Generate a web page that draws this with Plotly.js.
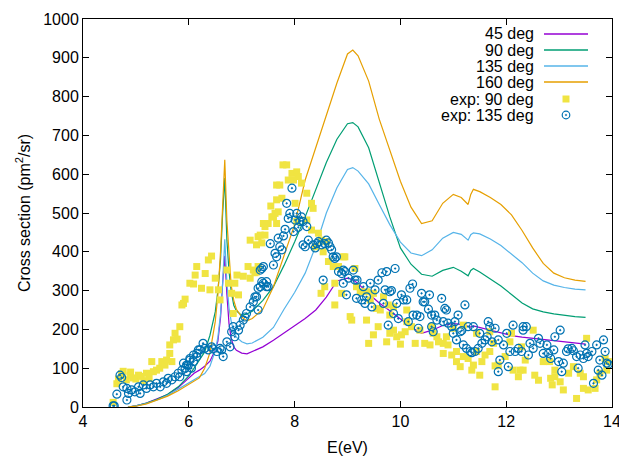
<!DOCTYPE html>
<html>
<head>
<meta charset="utf-8">
<script src="https://cdn.plot.ly/plotly-3.0.1.min.js"></script>
<style>html,body{margin:0;padding:0;background:#fff;}#chart{width:619px;height:457px;}</style>
</head>
<body>
<div id="chart"></div>
<script>
// ---- theory curves: common energy grid (eV) ----
const energyTheory = [4.85,5.0,5.2,5.4,5.6,5.8,5.9,6.0,6.1,6.2,6.3,6.4,6.5,6.55,6.6,6.64,6.68,6.72,6.76,6.8,6.85,6.9,7.0,7.1,7.2,7.4,7.6,7.8,8.0,8.2,8.4,8.6,8.8,9.0,9.1,9.2,9.4,9.6,9.8,10.0,10.2,10.4,10.6,10.8,11.0,11.15,11.28,11.33,11.38,11.5,11.7,11.9,12.1,12.3,12.5,12.7,12.9,13.1,13.3,13.5];
const deg45  = [0,3,10,20,32,50,62,74,87,95,105,118,147,170,230,320,390,290,215,178,155,146,139,137,143,155,172,190,208,228,250,283,325,332,328,318,292,268,248,226,206,190,198,210,215,213,207,206,209,205,197,190,184,180,177,175,172,168,165,162];
const deg90  = [0,3,10,20,33,52,66,80,100,120,142,185,245,300,380,500,590,430,350,300,262,248,236,240,247,275,310,365,425,490,560,630,690,730,733,722,668,580,490,410,368,342,337,352,360,350,338,352,357,348,330,312,290,268,253,245,240,236,233,231];
const deg135 = [0,3,9,18,30,46,55,62,70,78,86,105,145,180,240,320,432,320,255,222,192,180,168,163,165,180,205,252,295,345,415,500,565,612,617,608,575,522,470,425,397,390,405,435,450,445,430,444,449,446,433,416,395,372,345,325,314,308,304,302];
const deg160 = [0,2,8,17,28,42,50,57,65,75,100,140,220,290,400,540,637,480,390,315,275,252,232,222,228,252,310,390,470,585,670,750,835,910,920,905,840,742,660,582,515,473,480,525,548,540,522,548,561,555,540,522,495,455,410,370,345,333,327,324];

// ---- experiment, 90 deg ----
const exp90E = [4.57,4.64,4.67,4.73,4.76,4.82,4.89,4.9,4.95,5.0,5.05,5.1,5.15,5.2,5.25,5.3,5.33,5.39,5.45,5.49,5.55,5.58,5.64,5.64,5.68,5.71,5.74,5.78,5.83,5.87,5.9,5.93,6.02,6.09,6.12,6.15,6.24,6.31,6.37,6.43,6.4,6.5,6.56,6.59,6.72,6.75,6.81,6.84,6.87,6.91,6.94,7.03,7.12,7.16,7.16,7.22,7.28,7.25,7.28,7.31,7.31,7.35,7.38,7.41,7.44,7.44,7.5,7.55,7.57,7.6,7.63,7.66,7.66,7.66,7.69,7.72,7.76,7.78,7.85,7.88,7.95,7.98,8.01,8.04,8.04,8.07,8.13,8.23,8.23,8.32,8.35,8.32,8.39,8.45,8.5,8.51,8.54,8.57,8.6,8.64,8.73,8.76,8.76,8.83,8.89,8.92,8.95,9.05,9.08,9.14,9.17,9.24,9.36,9.36,9.4,9.43,9.49,9.49,9.55,9.58,9.62,9.68,9.74,9.77,9.8,9.8,9.87,9.87,9.93,10.0,10.02,10.09,10.12,10.12,10.21,10.28,10.37,10.46,10.56,10.59,10.62,10.69,10.72,10.81,10.81,10.87,10.9,10.97,11.0,11.06,11.06,11.13,11.19,11.19,11.28,11.35,11.38,11.44,11.44,11.5,11.54,11.6,11.69,11.69,11.76,11.79,11.79,11.85,11.98,12.07,12.1,12.13,12.23,12.26,12.29,12.32,12.36,12.51,12.54,12.61,12.7,12.82,12.84,12.87,12.92,12.92,13.02,13.08,13.18,13.27,13.33,13.4,13.46,13.46,13.52,13.55,13.68,13.71,13.77,13.87,13.9,13.93];
const exp90V = [12,60,72,86,92,70,82,90,75,72,82,79,68,87,74,117,91,95,100,117,108,121,138,160,117,173,190,175,207,263,267,278,319,317,340,362,306,344,379,389,302,332,302,276,353,319,293,241,319,340,289,337,362,332,430,353,348,346,418,439,362,443,423,473,443,465,473,518,490,490,499,534,572,473,503,572,538,624,624,585,602,585,525,606,478,594,577,551,482,525,512,456,413,448,293,430,400,310,426,375,362,319,263,362,293,387,387,233,224,357,310,297,297,224,164,276,293,186,254,207,250,284,168,263,237,190,198,258,181,162,186,194,220,250,207,164,198,164,160,207,190,181,168,164,138,181,160,134,203,143,117,104,130,211,125,95,108,143,190,82,117,134,143,194,164,52,106,108,130,168,190,95,78,95,155,95,121,198,82,69,117,117,74,57,78,95,65,44,87,104,22,87,78,48,177,44,48,70,87,125,95,117];

// ---- experiment, 135 deg ----
const exp135E = [4.57,4.59,4.64,4.7,4.73,4.76,4.83,4.83,4.86,4.92,4.98,5.05,5.08,5.14,5.2,5.27,5.33,5.39,5.46,5.52,5.58,5.61,5.68,5.74,5.8,5.83,5.87,5.9,5.93,5.96,5.96,5.99,6.02,6.02,6.05,6.09,6.09,6.15,6.15,6.18,6.21,6.27,6.3,6.37,6.43,6.46,6.53,6.59,6.62,6.65,6.72,6.78,6.81,6.84,6.87,6.94,6.97,7.03,7.06,7.09,7.16,7.22,7.25,7.28,7.31,7.31,7.35,7.35,7.38,7.38,7.41,7.41,7.47,7.47,7.5,7.54,7.6,7.63,7.66,7.69,7.72,7.76,7.79,7.82,7.85,7.88,7.91,7.95,7.98,8.01,8.04,8.07,8.1,8.13,8.16,8.16,8.2,8.23,8.26,8.35,8.39,8.42,8.45,8.51,8.54,8.57,8.6,8.64,8.67,8.7,8.73,8.76,8.79,8.83,8.89,8.92,8.92,8.95,8.98,9.02,9.11,9.14,9.18,9.17,9.27,9.3,9.33,9.36,9.43,9.46,9.52,9.58,9.65,9.68,9.71,9.74,9.77,9.8,9.83,9.87,9.9,9.93,9.96,10.02,10.06,10.12,10.15,10.18,10.23,10.24,10.31,10.34,10.37,10.4,10.43,10.46,10.53,10.55,10.59,10.59,10.62,10.65,10.69,10.78,10.81,10.84,10.87,10.9,10.97,11.0,11.03,11.06,11.09,11.13,11.16,11.19,11.22,11.25,11.28,11.32,11.35,11.38,11.41,11.47,11.5,11.54,11.6,11.64,11.66,11.69,11.73,11.79,11.85,11.85,11.88,11.95,12.01,12.04,12.07,12.13,12.17,12.23,12.29,12.32,12.32,12.38,12.42,12.45,12.51,12.61,12.64,12.7,12.77,12.8,12.84,12.9,12.92,12.99,13.02,13.05,13.08,13.14,13.17,13.24,13.27,13.33,13.36,13.4,13.46,13.49,13.52,13.55,13.62,13.65,13.71,13.74,13.77,13.81,13.84,13.87,13.9,13.93];
const exp135V = [3,3,33,82,76,52,18,48,35,44,39,52,35,57,48,57,52,61,52,65,61,74,70,78,87,78,95,113,100,91,108,108,125,121,100,117,134,130,138,147,147,164,151,147,155,150,143,151,147,130,168,155,194,207,181,198,211,224,232,241,258,271,284,284,306,250,310,353,323,357,362,319,323,310,310,421,366,396,387,435,413,405,441,458,525,486,499,564,452,482,499,463,478,490,478,418,413,465,430,418,410,421,426,418,327,421,430,423,413,405,387,383,387,349,344,353,319,349,289,332,353,327,327,280,276,310,267,284,319,258,302,327,346,267,302,349,211,297,300,241,357,267,228,289,276,276,220,306,317,237,237,203,233,293,271,271,252,289,237,207,194,237,224,280,220,254,250,216,207,190,220,173,237,194,197,160,263,151,207,143,140,207,143,151,190,164,173,181,220,207,168,203,173,91,121,160,190,104,143,211,143,151,143,207,198,207,134,164,151,177,164,138,160,138,125,147,181,117,198,91,113,143,150,151,145,130,100,134,125,160,138,130,143,61,160,95,121,82,173,143,113,110];

// ---- legend labels ----
const legendLabels = ["45 deg","90 deg","135 deg","160 deg","exp: 90 deg","exp: 135 deg"];
const colors = ["#9400d3","#009e73","#56b4e9","#e69f00","#f0e442","#0072b2"];

const lineTraces = [deg45, deg90, deg135, deg160].map((v,i)=>({
  x: energyTheory, y: v, type:'scatter', mode:'lines', name: legendLabels[i],
  line:{color:colors[i], width:1.2}, showlegend:false, hoverinfo:'skip'
}));
const traces = lineTraces.concat([
  {x:exp90E, y:exp90V, type:'scatter', mode:'markers', name:legendLabels[4],
   marker:{symbol:'square', size:7, color:colors[4], line:{width:0}}, showlegend:false},
  {x:exp135E, y:exp135V, type:'scatter', mode:'markers', name:legendLabels[5],
   marker:{symbol:'circle-open-dot', size:8, color:colors[5], line:{width:1.2, color:colors[5]}}, showlegend:false}
]);

// custom gnuplot-style legend (text, then sample)
const plotL = 83, plotR = 612, plotT = 19, plotB = 407;
const px2x = p => (p - plotL) / (plotR - plotL);
const py2y = p => (plotB - p) / (plotB - plotT);
const rowY = [34, 50, 66, 82, 99, 115];
const annotations = legendLabels.map((t,i)=>({
  text:t, xref:'paper', yref:'paper', x:px2x(536), y:py2y(rowY[i]),
  xanchor:'right', yanchor:'middle', showarrow:false,
  font:{family:'Liberation Sans, Arial, sans-serif', size:16, color:'#000'}
}));
const shapes = [];
for (let i=0;i<4;i++){
  shapes.push({type:'line', xref:'paper', yref:'paper', x0:px2x(544), x1:px2x(588),
    y0:py2y(rowY[i]), y1:py2y(rowY[i]), line:{color:colors[i], width:1.5}});
}
shapes.push({type:'rect', xref:'paper', yref:'paper', xsizemode:'pixel', ysizemode:'pixel',
  xanchor:px2x(566), yanchor:py2y(rowY[4]), x0:-3.5, x1:3.5, y0:-3.5, y1:3.5,
  fillcolor:colors[4], line:{width:0}});
shapes.push({type:'circle', xref:'paper', yref:'paper', xsizemode:'pixel', ysizemode:'pixel',
  xanchor:px2x(566), yanchor:py2y(rowY[5]), x0:-3.8, x1:3.8, y0:-3.8, y1:3.8,
  line:{color:colors[5], width:1.2}});
shapes.push({type:'circle', xref:'paper', yref:'paper', xsizemode:'pixel', ysizemode:'pixel',
  xanchor:px2x(566), yanchor:py2y(rowY[5]), x0:-0.8, x1:0.8, y0:-0.8, y1:0.8,
  fillcolor:colors[5], line:{color:colors[5], width:0.5}});

const axisCommon = {
  showline:true, linecolor:'#000', linewidth:1, mirror:'ticks',
  ticks:'inside', ticklen:6, tickcolor:'#000', tickwidth:1,
  showgrid:false, zeroline:false, automargin:false, ticklabeloverflow:'allow',
  tickfont:{family:'Liberation Sans, Arial, sans-serif', size:16, color:'#000'}
};
const layout = {
  width:619, height:457,
  margin:{l:plotL, r:619-plotR, t:plotT, b:457-plotB},
  paper_bgcolor:'#fff', plot_bgcolor:'#fff',
  font:{family:'Liberation Sans, Arial, sans-serif', size:16, color:'#000'},
  showlegend:false,
  xaxis:Object.assign({}, axisCommon, {range:[4,14], dtick:2, tick0:4,
    title:{text:'E(eV)', standoff:12, font:{size:16}}}),
  yaxis:Object.assign({}, axisCommon, {range:[0,1000], dtick:100, tick0:0,
    title:{text:'Cross section (pm<sup>2</sup>/sr)', standoff:8, font:{size:16}}}),
  annotations: annotations,
  shapes: shapes
};
Plotly.newPlot('chart', traces, layout, {displayModeBar:false, staticPlot:true});
</script>
</body>
</html>
